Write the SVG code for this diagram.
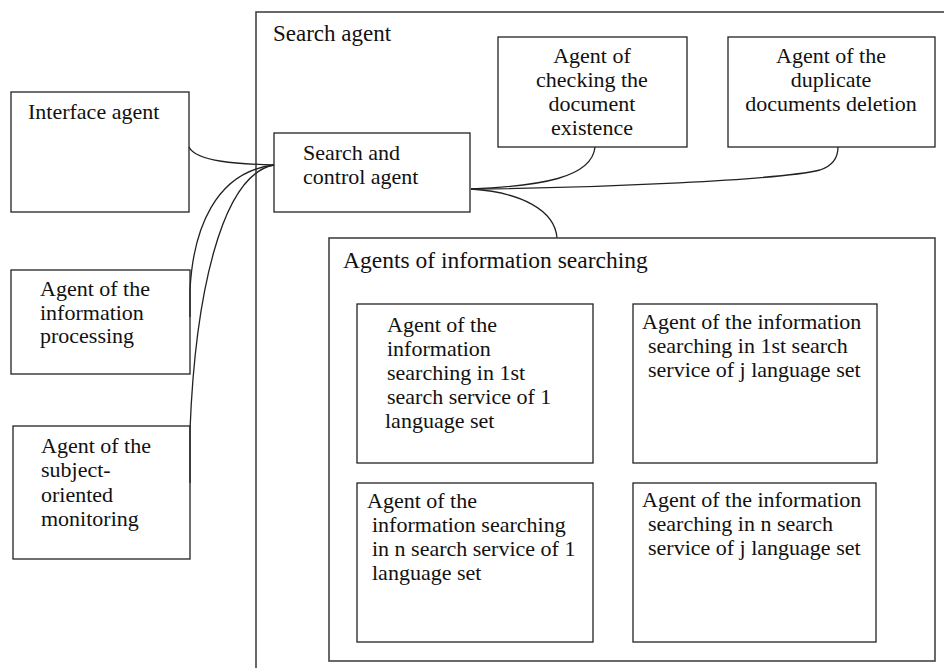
<svg xmlns="http://www.w3.org/2000/svg" width="944" height="668" viewBox="0 0 944 668">
<style>
rect{fill:none;stroke:#222;stroke-width:1.3}
rect.outer{stroke:#444;stroke-width:1.6}
text{font-family:"Liberation Serif","Times New Roman",serif;font-size:22px;fill:#111}
text.c{text-anchor:middle}
text.big{font-size:23.5px}
#connectors path{fill:none;stroke:#222;stroke-width:1.3}
</style>
<rect x="0" y="0" width="944" height="668" style="fill:#fff;stroke:none"/>
<g id="search-agent">
<rect class="outer" x="256" y="12" width="720" height="700"/>
<text x="273" y="41" style="font-size:23px">Search agent</text>
</g>
<g id="connectors">
<path d="M189,147 C196,162 240,164 274,165"/>
<path d="M190,317 L190,290 C193,230 215,172 274,165"/>
<path d="M190,483 L190,430 C195,300 220,175 274,165"/>
<path d="M471,189 C540,186 592,178 595,147"/>
<path d="M471,189 C600,188 780,180 820,170 C832,166 838,158 838,147"/>
<path d="M471,189 C520,192 555,210 557,238"/>
</g>
<g id="interface-agent">
<rect x="11" y="92" width="178" height="120"/>
<text x="28" y="119">Interface agent</text>
</g>
<g id="info-processing-agent">
<rect x="11" y="270" width="179" height="104"/>
<text x="40" y="296">Agent of the</text>
<text x="40" y="320">information</text>
<text x="40" y="343">processing</text>
</g>
<g id="monitoring-agent">
<rect x="13" y="426" width="177" height="133"/>
<text x="41" y="453">Agent of the</text>
<text x="41" y="477">subject-</text>
<text x="41" y="502">oriented</text>
<text x="41" y="526">monitoring</text>
</g>
<g id="search-control-agent">
<rect x="274" y="133" width="196" height="79"/>
<text x="303" y="160">Search and</text>
<text x="303" y="184">control agent</text>
</g>
<g id="checking-agent">
<rect x="498" y="37" width="189" height="110"/>
<text class="c" x="592" y="63">Agent of</text>
<text class="c" x="592" y="87">checking the</text>
<text class="c" x="592" y="111">document</text>
<text class="c" x="592" y="135">existence</text>
</g>
<g id="duplicate-agent">
<rect x="728" y="37" width="207" height="110"/>
<text class="c" x="831" y="63">Agent of the</text>
<text class="c" x="831" y="87">duplicate</text>
<text class="c" x="831" y="111">documents deletion</text>
</g>
<g id="info-searching-agents">
<rect class="outer" x="329" y="238" width="606" height="423"/>
<text class="big" x="343" y="268">Agents of information searching</text>
</g>
<g id="agent-1-1">
<rect x="357" y="304" width="236" height="159"/>
<text x="387" y="332">Agent of the</text>
<text x="387" y="356">information</text>
<text x="387" y="380">searching in 1st</text>
<text x="387" y="404">search service of 1</text>
<text x="385" y="428">language set</text>
</g>
<g id="agent-1-j">
<rect x="633" y="304" width="244" height="159"/>
<text x="642" y="329">Agent of the information</text>
<text x="648" y="353">searching in 1st search</text>
<text x="648" y="377">service of j language set</text>
</g>
<g id="agent-n-1">
<rect x="357" y="483" width="236" height="159"/>
<text x="367" y="508">Agent of the</text>
<text x="372" y="532">information searching</text>
<text x="372" y="556">in n search service of 1</text>
<text x="372" y="580">language set</text>
</g>
<g id="agent-n-j">
<rect x="633" y="483" width="243" height="159"/>
<text x="642" y="507">Agent of the information</text>
<text x="648" y="531">searching in n search</text>
<text x="648" y="555">service of j language set</text>
</g>
</svg>
